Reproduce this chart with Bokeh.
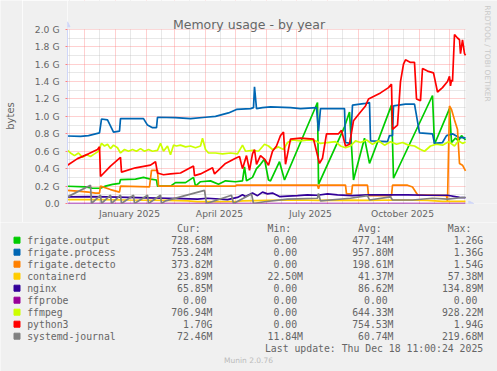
from datetime import date
import numpy as np
from bokeh.plotting import figure
from bokeh.layouts import column, row
from bokeh.models import Range1d, FixedTicker, Label, Arrow, NormalHead, LinearAxis
from bokeh.core.properties import value
from bokeh.embed import file_html
from bokeh.resources import INLINE

# ---------------- data (x = days since 2024-11-14, y = GiB) ----------------
START = date(2024, 11, 14)
END_DAY = 398

xtick_labels = ["January 2025", "April 2025", "July 2025", "October 2025"]
ytick_values = [0.0, 0.2, 0.4, 0.6, 0.8, 1.0, 1.2, 1.4, 1.6, 1.8, 2.0]
ytick_labels = ["0.0", "0.2 G", "0.4 G", "0.6 G", "0.8 G", "1.0 G", "1.2 G", "1.4 G", "1.6 G", "1.8 G", "2.0 G"]

out_day = [0, 18, 25, 33, 38, 45, 52, 53, 68, 76, 83, 89, 90, 103, 108, 118, 126, 128, 133, 143,
           151, 158, 168, 175, 177, 179, 185, 189, 193, 197, 201, 203, 212, 217, 250, 251, 277, 282, 286, 297,
           302, 324, 326, 365, 367, 382, 384, 388, 391, 394, 398]
out_val = [0.198, 0.19, 0.175, 0.175, 0.20, 0.22, 0.23, 0.275, 0.28, 0.30, 0.28, 0.27, 0.20, 0.20, 0.24, 0.24, 0.30, 0.20, 0.25, 0.26,
           0.22, 0.26, 0.25, 0.26, 0.42, 0.26, 0.30, 0.40, 0.45, 0.51, 0.27, 0.26, 0.48, 0.27, 1.16, 0.22, 0.88, 1.05, 0.27, 0.75,
           0.46, 1.13, 0.29, 1.24, 0.68, 1.09, 0.70, 0.75, 0.72, 0.78, 0.729]

proc_day = [0, 13, 21, 28, 32, 34, 40, 46, 52, 53, 76, 80, 85, 89, 90, 108, 123, 138, 148, 161,
            169, 183, 186, 187, 189, 195, 203, 223, 233, 249, 251, 253, 277, 278, 283, 285, 298, 302, 303, 320,
            322, 325, 326, 338, 347, 352, 365, 367, 375, 379, 385, 391, 398]
proc_val = [0.775, 0.77, 0.78, 0.80, 0.81, 0.97, 0.96, 0.82, 0.83, 0.975, 0.975, 0.90, 0.87, 0.87, 0.99, 0.985, 0.975, 0.99, 1.0, 1.04,
            1.08, 1.09, 1.10, 1.34, 1.09, 1.10, 1.11, 1.10, 1.09, 1.10, 0.83, 1.09, 1.09, 0.70, 0.69, 1.13, 1.15, 1.16, 0.72, 0.71,
            0.78, 0.78, 1.12, 1.14, 1.14, 0.81, 0.80, 0.69, 0.70, 0.78, 0.80, 0.76, 0.753]

det_day = [0, 13, 21, 28, 32, 33, 43, 52, 53, 82, 84, 90, 91, 168, 169, 250, 251, 252, 278, 279,
           284, 285, 300, 301, 324, 325, 340, 345, 350, 379, 380, 382, 384, 387, 390, 392, 395, 398]
det_val = [0.15, 0.14, 0.13, 0.12, 0.12, 0.20, 0.16, 0.13, 0.20, 0.19, 0.38, 0.38, 0.20, 0.20, 0.21, 0.21, 0.17, 0.21, 0.21, 0.11,
           0.11, 0.21, 0.21, 0.09, 0.09, 0.21, 0.21, 0.19, 0.10, 0.09, 0.02, 1.12, 1.08, 0.96, 0.85, 0.46, 0.44, 0.374]

cont_day = [0, 30, 60, 100, 120, 130, 150, 170, 175, 200, 230, 250, 280, 300, 330, 360, 375, 390, 398]
cont_val = [0.045, 0.045, 0.04, 0.035, 0.03, 0.022, 0.022, 0.023, 0.03, 0.035, 0.04, 0.035, 0.038, 0.035, 0.04, 0.035, 0.025, 0.025, 0.024]

nginx_day = [0, 20, 40, 60, 80, 100, 115, 130, 140, 160, 170, 175, 178, 185, 190, 195, 200, 205, 212, 220,
             230, 240, 250, 260, 270, 285, 300, 320, 340, 360, 380, 392, 398]
nginx_val = [0.075, 0.08, 0.075, 0.07, 0.065, 0.06, 0.055, 0.05, 0.06, 0.045, 0.07, 0.10, 0.08, 0.12, 0.09, 0.13, 0.11, 0.12, 0.08, 0.085,
             0.09, 0.10, 0.095, 0.11, 0.10, 0.09, 0.10, 0.10, 0.10, 0.095, 0.095, 0.07, 0.066]

ffprobe_day = [0, 398]
ffprobe_val = [0.0, 0.0]

ffmpeg_day = [0, 3, 7, 11, 15, 19, 23, 27, 31, 34, 37, 40, 43, 46, 50, 53, 57, 61, 65, 69,
              73, 77, 81, 85, 90, 93, 96, 100, 103, 106, 109, 113, 118, 123, 128, 133, 135, 138, 141, 148,
              155, 163, 170, 175, 178, 185, 191, 197, 201, 205, 211, 216, 220, 225, 233, 241, 248, 253, 260, 268,
              273, 278, 283, 288, 293, 299, 305, 311, 317, 323, 329, 335, 341, 347, 353, 357, 363, 369, 375, 381,
              387, 391, 395, 398]
ffmpeg_val = [0.61, 0.58, 0.55, 0.58, 0.53, 0.56, 0.54, 0.57, 0.60, 0.69, 0.66, 0.68, 0.63, 0.67, 0.64, 0.58, 0.62, 0.60, 0.62, 0.60,
              0.63, 0.60, 0.62, 0.60, 0.61, 0.69, 0.60, 0.66, 0.56, 0.67, 0.66, 0.67, 0.65, 0.66, 0.64, 0.66, 0.75, 0.62, 0.58, 0.58,
              0.57, 0.58, 0.57, 0.67, 0.60, 0.61, 0.60, 0.68, 0.66, 0.62, 0.65, 0.62, 0.70, 0.73, 0.72, 0.73, 0.72, 0.69, 0.70, 0.71,
              0.66, 0.64, 0.66, 0.72, 0.70, 0.73, 0.68, 0.72, 0.67, 0.71, 0.68, 0.70, 0.67, 0.66, 0.62, 0.60, 0.66, 0.68, 0.67, 0.71,
              0.66, 0.72, 0.69, 0.707]

py_day = [0, 10, 21, 30, 32, 33, 43, 53, 54, 68, 83, 88, 90, 96, 103, 113, 126, 127, 133, 145,
          147, 158, 168, 172, 175, 179, 182, 185, 187, 189, 193, 197, 201, 205, 209, 213, 216, 218, 223, 233,
          246, 249, 252, 255, 259, 271, 274, 278, 282, 286, 293, 298, 301, 313, 321, 324, 325, 330, 333, 336,
          338, 343, 347, 349, 353, 355, 360, 366, 370, 375, 380, 382, 383, 384, 385, 387, 390, 392, 393, 395,
          397, 398]
py_val = [0.44, 0.515, 0.57, 0.62, 0.65, 0.31, 0.43, 0.53, 0.36, 0.41, 0.44, 0.48, 0.35, 0.33, 0.34, 0.35, 0.43, 0.32, 0.34, 0.41,
          0.34, 0.46, 0.52, 0.54, 0.40, 0.55, 0.38, 0.57, 0.62, 0.45, 0.55, 0.51, 0.44, 0.60, 0.66, 0.78, 0.82, 0.45, 0.74, 0.75,
          0.74, 0.60, 0.46, 0.52, 0.80, 0.80, 0.84, 0.66, 0.68, 0.95, 1.05, 1.12, 1.20, 1.27, 1.33, 1.37, 0.85, 0.90, 1.40, 1.60,
          1.65, 1.62, 1.62, 1.20, 1.18, 1.55, 1.52, 1.50, 1.28, 1.33, 1.40, 1.46, 1.35, 1.42, 1.40, 1.94, 1.90, 1.88, 1.72, 1.88,
          1.72, 1.70]

sys_day = [0, 23, 24, 33, 34, 43, 44, 53, 54, 66, 67, 80, 81, 93, 94, 98, 137, 139, 164, 166,
           184, 186, 197, 220, 250, 251, 253, 283, 300, 302, 323, 325, 345, 365, 380, 398]
sys_val = [0.076, 0.21, 0.0, 0.095, 0.0, 0.095, 0.0, 0.095, 0.0, 0.095, 0.0, 0.095, 0.0, 0.095, 0.0, 0.03, 0.15, 0.0, 0.095, 0.0,
           0.11, 0.0, 0.02, 0.05, 0.06, 0.115, 0.03, 0.06, 0.09, 0.04, 0.076, 0.04, 0.04, 0.06, 0.05, 0.072]

names = ["frigate.output", "frigate.process", "frigate.detecto", "containerd", "nginx",
         "ffprobe", "ffmpeg", "python3", "systemd-journal"]
colors = ["#00CC00", "#0066B3", "#FF8000", "#FFCC00", "#330099", "#990099", "#CCFF00", "#FF0000", "#808080"]
cur_txt = ["728.68M", "753.24M", "373.82M", "23.89M", "65.85M", "0.00", "706.94M", "1.70G", "72.46M"]
min_txt = ["0.00", "0.00", "0.00", "22.50M", "0.00", "0.00", "0.00", "0.00", "11.84M"]
avg_txt = ["477.14M", "957.80M", "198.61M", "41.37M", "86.62M", "0.00", "644.33M", "754.53M", "60.74M"]
max_txt = ["1.26G", "1.36G", "1.54G", "57.38M", "134.89M", "0.00", "928.22M", "1.94G", "219.68M"]
last_update = "Last update: Thu Dec 18 11:00:24 2025"
title_txt = "Memory usage - by year"
y_title = "bytes"
watermark = "RRDTOOL / TOBI OETIKER"
footer = "Munin 2.0.76"

series_days = [out_day, proc_day, det_day, cont_day, nginx_day, ffprobe_day, ffmpeg_day, py_day, sys_day]
series_vals = [out_val, proc_val, det_val, cont_val, nginx_val, ffprobe_val, ffmpeg_val, py_val, sys_val]

# ---------------- derived tick positions ----------------
def day_of(y, m, d):
    return (date(y, m, d) - START).days

month_starts = [day_of(2024, 12, 1)] + [day_of(2025, m, 1) for m in range(1, 13)]
mid_months = [day_of(2024, 11, 16), day_of(2024, 12, 16)] + [day_of(2025, m, 16) for m in range(1, 13)]
label_days = [day_of(2025, m, 15) for m in (1, 4, 7, 10)]
yminor = [0.1, 0.3, 0.5, 0.7, 0.9, 1.1, 1.3, 1.5, 1.7, 1.9]

FONT_COL = "#666666"
BG = "#F0F0F0"
AXIS_COL = "#CFD6F8"
GRID_MAJOR = "#FF8080"

# Page geometry: chart frame covers page x 67..497 and y 0..203
W, H_MAIN = 497, 222
STRIP = 22                      # narrow strip on the left carrying the "bytes" caption
LEFT, BOTTOM = 67, 19
FRAME_W = W - LEFT
FRAME_H = H_MAIN - BOTTOM
PX_PER_G = 174.2 / 2.0
Y_TOP = FRAME_H / PX_PER_G

def no_align(fig):
    if "frame_align" in fig.properties():
        fig.frame_align = False

# ---------------- left caption strip ----------------
strip = figure(width=STRIP, height=H_MAIN, x_range=Range1d(0, STRIP), y_range=Range1d(H_MAIN, 0),
               output_backend="svg", toolbar_location=None,
               background_fill_color=BG, border_fill_color=BG, outline_line_color=None,
               min_border_left=0, min_border_right=0, min_border_top=0, min_border_bottom=0,
               x_axis_location=None, y_axis_location=None)
no_align(strip)
strip.xgrid.visible = False
strip.ygrid.visible = False
strip.text([10.3], [115.5], text=[y_title], angle=np.pi / 2, text_align="center", text_baseline="middle",
           text_font=value("DejaVu Sans"), text_font_size=value("10px"), text_color=FONT_COL)

# ---------------- main chart ----------------
p = figure(width=W - STRIP, height=H_MAIN, x_range=Range1d(0, FRAME_W), y_range=Range1d(0, Y_TOP),
           output_backend="svg", toolbar_location=None,
           background_fill_color="#FFFFFF", border_fill_color=BG,
           min_border_left=LEFT - STRIP, min_border_right=0, min_border_top=0, min_border_bottom=BOTTOM,
           outline_line_color=None)
no_align(p)

# first (inner) x axis: month tick marks only; drawn beneath the series like rrdtool
p.xaxis.ticker = FixedTicker(ticks=month_starts)
p.xaxis.major_label_overrides = {d: "" for d in month_starts}
p.xaxis.bounds = (-3, END_DAY)
p.xaxis.major_tick_out = 2
p.xaxis.major_tick_in = 0
p.xaxis.minor_tick_out = 0
p.xaxis.minor_tick_in = 0
p.xaxis.major_tick_line_color = GRID_MAJOR
p.xaxis.major_label_standoff = 0
p.xaxis.major_label_text_font_size = "1px"
p.xaxis.axis_line_color = AXIS_COL
p.xaxis.level = "underlay"

# second (outer) x axis: quarter labels centred mid-month
lab_axis = LinearAxis(ticker=FixedTicker(ticks=label_days),
                      major_label_overrides=dict(zip(label_days, xtick_labels)),
                      axis_line_color=None, major_tick_out=0, major_tick_in=0,
                      minor_tick_out=0, minor_tick_in=0, major_label_standoff=2,
                      major_label_text_font="DejaVu Sans", major_label_text_font_size="9.2px",
                      major_label_text_color=FONT_COL)
p.add_layout(lab_axis, "below")

p.yaxis.ticker = FixedTicker(ticks=ytick_values, minor_ticks=yminor)
p.yaxis.major_label_overrides = dict(zip(ytick_values, ytick_labels))
p.yaxis.bounds = (-0.03, 2.0)
p.yaxis.major_tick_out = 2
p.yaxis.major_tick_in = 0
p.yaxis.minor_tick_out = 0
p.yaxis.minor_tick_in = 0
p.yaxis.major_tick_line_color = GRID_MAJOR
p.yaxis.major_label_standoff = 6
p.yaxis.axis_line_color = AXIS_COL
p.yaxis.major_label_text_font = "DejaVu Sans"
p.yaxis.major_label_text_font_size = "9.2px"
p.yaxis.major_label_text_color = FONT_COL

p.xgrid.ticker = FixedTicker(ticks=month_starts, minor_ticks=mid_months)
p.ygrid.ticker = FixedTicker(ticks=ytick_values[1:], minor_ticks=yminor)
for g in (p.xgrid, p.ygrid):
    g.grid_line_color = GRID_MAJOR
    g.grid_line_alpha = 0.75
    g.grid_line_dash = "1 1"
    g.grid_line_width = 1
    g.minor_grid_line_color = "#B0B0B0"
    g.minor_grid_line_alpha = 0.6
    g.minor_grid_line_dash = "1 1"

# grey surround outside the 400-day / 2.0 G canvas (hides grid lines there)
p.quad(left=[0, END_DAY], right=[FRAME_W, FRAME_W], bottom=[2.0, -0.1], top=[Y_TOP, Y_TOP],
       fill_color=BG, line_color=None)

for d, v, c in zip(series_days, series_vals, colors):
    p.line(d, v, line_color=c, line_width=1.7)

# axis arrows
p.add_layout(Arrow(end=NormalHead(size=5, fill_color=AXIS_COL, line_color=AXIS_COL),
                   x_start=0, y_start=2.0, x_end=0, y_end=2.0 + 7.5 / PX_PER_G,
                   line_color=AXIS_COL, line_width=1))
p.add_layout(Arrow(end=NormalHead(size=5, fill_color=AXIS_COL, line_color=AXIS_COL),
                   x_start=END_DAY, y_start=0, x_end=END_DAY + 8.3, y_end=0,
                   line_color=AXIS_COL, line_width=1))

# title and side watermark (inside the frame, which spans the whole top area)
p.add_layout(Label(x=248.5 - LEFT, y=(203 - 24) / PX_PER_G, text=title_txt,
                   text_align="center", text_baseline="alphabetic",
                   text_font="DejaVu Sans", text_font_size="12.5px", text_color=FONT_COL))
p.add_layout(Label(x=487.3 - LEFT, y=(203 - 53) / PX_PER_G, text=watermark,
                   angle=-np.pi / 2, text_align="center", text_baseline="middle",
                   text_font="DejaVu Sans", text_font_size="7.5px", text_color="#C8C8C8"))

# ---------------- legend panel (coordinates = page pixels) ----------------
TOP = H_MAIN
leg = figure(width=W, height=371 - TOP, x_range=Range1d(0, W), y_range=Range1d(371, TOP),
             output_backend="svg", toolbar_location=None,
             background_fill_color=BG, border_fill_color=BG, outline_line_color=None,
             min_border_left=0, min_border_right=0, min_border_top=0, min_border_bottom=0,
             x_axis_location=None, y_axis_location=None)
no_align(leg)
leg.xgrid.visible = False
leg.ygrid.visible = False

FS = 9.8
CW = 0.602 * FS
mono = dict(text_font=value("DejaVu Sans Mono"), text_font_size=value(f"{FS}px"),
            text_color=FONT_COL, text_baseline="middle")

row_y = [239.7 + 12 * i for i in range(len(names))]
col_right = [212, 302.5, 393, 482.7]

leg.scatter([16.5] * len(names), row_y, marker="square", size=6, fill_color=colors, line_color=colors)
leg.text([26.7] * len(names), row_y, text=names, text_align="left", **mono)

headers = ["Cur:", "Min:", "Avg:", "Max:"]
leg.text([r - 6 * CW for r in col_right], [227.5] * 4, text=headers, text_align="left", **mono)

for r, col in zip(col_right, [cur_txt, min_txt, avg_txt, max_txt]):
    xs = [r - (0 if s[-1].isalpha() else CW) for s in col]
    leg.text(xs, row_y, text=col, text_align="right", **mono)

leg.text([482.7], [347.7], text=[last_update], text_align="right", **mono)
leg.text([248], [360], text=[footer], text_align="center", text_baseline="middle",
         text_font=value("DejaVu Sans"), text_font_size=value("7.5px"), text_color="#BBBBBB")

layout = column(row(strip, p, spacing=0), leg, spacing=0)
open("out.html", "w").write(file_html(layout, INLINE))
